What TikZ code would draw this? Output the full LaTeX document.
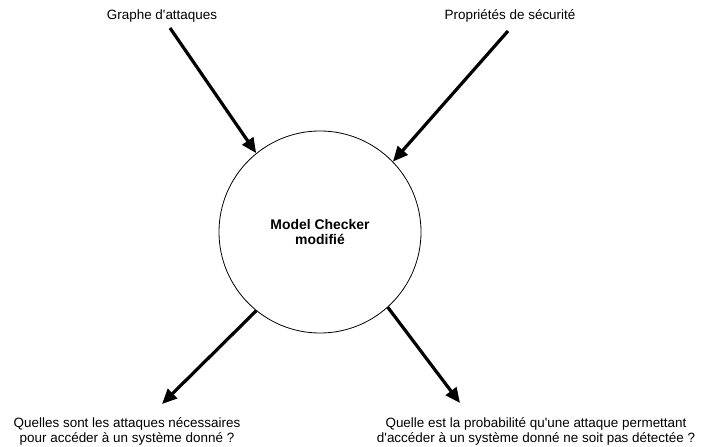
\documentclass[tikz,border=0pt]{standalone}
\usepackage{fontspec}
\setmainfont{Liberation Sans}
\usetikzlibrary{arrows.meta}

\begin{document}
\begin{tikzpicture}[x=1bp,y=-1bp,
        fleche/.style={line width=3.2bp,-{Triangle[length=15bp,width=13bp]}},
        etiquette/.style={font=\fontsize{13.5}{15}\selectfont,inner sep=0pt,align=center}]
    \useasboundingbox (0,0) rectangle (706,447);

    \node[draw,circle,line width=0.8bp,minimum size=202bp,inner sep=0pt,align=center,
          font=\fontsize{14}{16}\selectfont\bfseries] (mc) at (320,232) {Model Checker\\modifié};

    \node[etiquette,anchor=base] (graphe) at (162,20) {Graphe d\textquotesingle attaques};
    \node[etiquette,anchor=base] (proprietes) at (510,20) {Propriétés de sécurité};
    \node[etiquette,anchor=north] (attaques) at (127,417)
        {Quelles sont les attaques nécessaires\\pour accéder à un système donné ?};
    \node[etiquette,anchor=north] (proba) at (536,417)
        {Quelle est la probabilité qu\textquotesingle une attaque permettant\\d\textquotesingle accéder à un système donné ne soit pas détectée ?};

    \coordinate (g) at (170,28);
    \coordinate (p) at (508,31);
    \coordinate (a) at (162,404);
    \coordinate (d) at (460,403);

    \draw[fleche] (g) -- (mc.129);
    \draw[fleche] (p) -- (mc.44);
    \draw[fleche] (mc.231) -- (a);
    \draw[fleche] (mc.-48) -- (d);
\end{tikzpicture}
\end{document}
